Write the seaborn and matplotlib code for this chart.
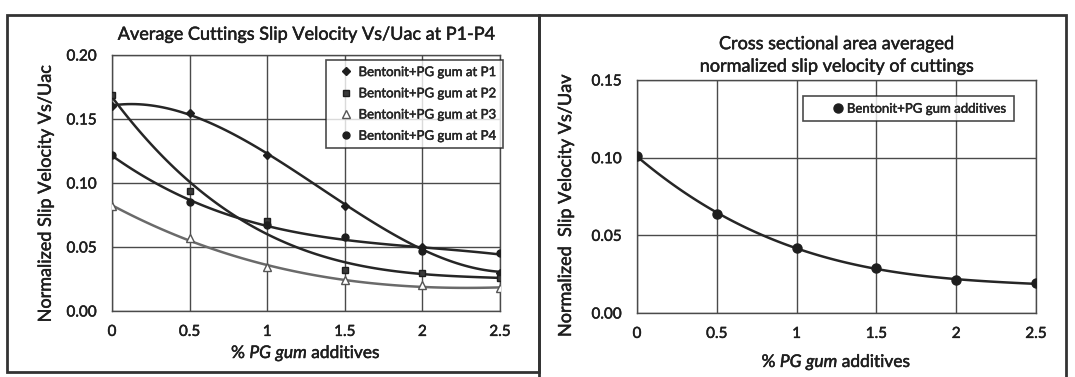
import numpy as np
import pandas as pd
import matplotlib
matplotlib.use("Agg")
import matplotlib.pyplot as plt
import matplotlib.patheffects as pe
from matplotlib.patches import Rectangle
from matplotlib.lines import Line2D
from matplotlib.text import Text
import seaborn as sns

# ---- data ----
pg_gum = [0.0, 0.5, 1.0, 1.5, 2.0, 2.5]
p1 = [0.160, 0.155, 0.122, 0.082, 0.050, 0.030]
p2 = [0.169, 0.094, 0.070, 0.032, 0.030, 0.026]
p3 = [0.082, 0.057, 0.034, 0.024, 0.020, 0.018]
p4 = [0.122, 0.085, 0.067, 0.058, 0.047, 0.045]
avg = [0.101, 0.064, 0.042, 0.029, 0.021, 0.019]

left_labels = ["Bentonit+PG gum at P1", "Bentonit+PG gum at P2",
               "Bentonit+PG gum at P3", "Bentonit+PG gum at P4"]
right_label = "Bentonit+PG gum additives"
left_title = "Average Cuttings Slip Velocity Vs/Uac at P1-P4"
right_title = "Cross sectional area averaged\nnormalized slip velocity of cuttings"
left_ylabel = "Normalized Slip Velocity Vs/Uac"
right_ylabel = "Normalized  Slip Velocity Vs/Uav"
xlabel = r"% $\mathit{PG\ gum}$ additives"
x_ticks = [0, 0.5, 1, 1.5, 2, 2.5]
x_ticklabels = ["0", "0.5", "1", "1.5", "2", "2.5"]
left_yticks = [0.00, 0.05, 0.10, 0.15, 0.20]
right_yticks = [0.00, 0.05, 0.10, 0.15]

sns.set_theme(style="white")
plt.rcParams["font.family"] = ["Lato", "DejaVu Sans"]
plt.rcParams["mathtext.fontset"] = "custom"
plt.rcParams["mathtext.rm"] = "Lato"
plt.rcParams["mathtext.it"] = "Lato:italic"

W, H = 1075, 377
fig = plt.figure(figsize=(W / 100, H / 100), dpi=100)
fig.patch.set_facecolor("white")

def px_axes(x0, y0, x1, y1):
    return fig.add_axes([x0 / W, 1 - y1 / H, (x1 - x0) / W, (y1 - y0) / H])

axL = px_axes(112, 55, 500, 311)
axR = px_axes(637, 80, 1036, 313)

ink = "#1e1e1e"
grid_c = "#4a4a4a"

def style(ax, yticks, ymax, xlabelpad):
    ax.set_xlim(0, 2.5)
    ax.set_ylim(0, ymax)
    ax.set_xticks(x_ticks)
    ax.set_xticklabels(x_ticklabels)
    ax.set_yticks(yticks)
    ax.set_yticklabels([f"{v:.2f}" for v in yticks])
    ax.grid(True, color=grid_c, linewidth=1.0)
    ax.set_axisbelow(True)
    for s in ax.spines.values():
        s.set_color(grid_c)
        s.set_linewidth(1.0)
    ax.tick_params(axis="both", direction="out", length=4, width=1.0,
                   color=grid_c, labelsize=11, labelcolor=ink)
    ax.tick_params(axis="x", pad=6)
    ax.tick_params(axis="y", pad=7)
    ax.set_xlabel(xlabel, fontsize=12.5, color=ink, labelpad=xlabelpad)

series = [
    (p1, "D", ink, ink, 4.5, "#262626"),
    (p2, "s", "#3a3a3a", ink, 5, "#262626"),
    (p3, "^", "white", "#555555", 6, "#6a6a6a"),
    (p4, "o", ink, ink, 5, "#262626"),
]
handles = []
for vals, mk, fc, ec, ms, lc in series:
    df = pd.DataFrame({"x": pg_gum, "y": vals})
    sns.regplot(data=df, x="x", y="y", order=3, ci=None, scatter=False,
                ax=axL, line_kws=dict(color=lc, linewidth=1.8, zorder=3))
    axL.plot(pg_gum, vals, linestyle="none", marker=mk, markersize=ms,
             markerfacecolor=fc, markeredgecolor=ec, markeredgewidth=1.0,
             zorder=4)
    handles.append(Line2D([], [], linestyle="none", marker=mk, markersize=ms,
                          markerfacecolor=fc, markeredgecolor=ec,
                          markeredgewidth=1.0))

style(axL, left_yticks, 0.20, 3)
axL.set_ylabel(left_ylabel, fontsize=13, color=ink)
axL.yaxis.set_label_coords(-0.150, 0.457)
axL.set_title(left_title, fontsize=13, color=ink, pad=11)
legL = axL.legend(handles, left_labels, loc="upper right",
                  bbox_to_anchor=(1.008, 0.98), fontsize=9.5, frameon=True,
                  fancybox=False, shadow=False, edgecolor=ink,
                  handlelength=2.1, handletextpad=-0.1, labelspacing=0.7,
                  borderpad=0.45, borderaxespad=0)
legL.get_frame().set_linewidth(1.2)

dfR = pd.DataFrame({"x": pg_gum, "y": avg})
sns.regplot(data=dfR, x="x", y="y", order=3, ci=None, scatter=False, ax=axR,
            line_kws=dict(color="#262626", linewidth=1.8, zorder=3))
axR.plot(pg_gum, avg, linestyle="none", marker="o", markersize=6.5,
         markerfacecolor=ink, markeredgecolor=ink, zorder=4)
style(axR, right_yticks, 0.15, 8)
axR.set_ylabel(right_ylabel, fontsize=13, color=ink)
axR.yaxis.set_label_coords(-0.158, 0.459)
axR.set_title(right_title, fontsize=13, color=ink, pad=6, linespacing=1.5)
hR = Line2D([], [], linestyle="none", marker="o", markersize=6.5,
            markerfacecolor=ink, markeredgecolor=ink)
legR = axR.legend([hR], [right_label], loc="upper right",
                  bbox_to_anchor=(0.945, 0.931), fontsize=9.5, frameon=True,
                  fancybox=False, edgecolor=ink, handlelength=4.3,
                  handletextpad=-1.5, borderpad=0.5, borderaxespad=0)
legR.get_frame().set_linewidth(1.2)

# slightly heavier text, like the scanned original
for t in fig.findobj(Text):
    if t.get_text():
        t.set_path_effects([pe.withStroke(linewidth=0.35, foreground=ink)])

# panel borders
for (x0, y0, x1, y1) in [(7, 15, 539, 372), (539, 15, 1066, 380)]:
    fig.patches.append(Rectangle((x0 / W, 1 - y1 / H), (x1 - x0) / W,
                                 (y1 - y0) / H, transform=fig.transFigure,
                                 fill=False, edgecolor="#333333", linewidth=2.0))

fig.savefig("out.png", dpi=100, facecolor="white")
